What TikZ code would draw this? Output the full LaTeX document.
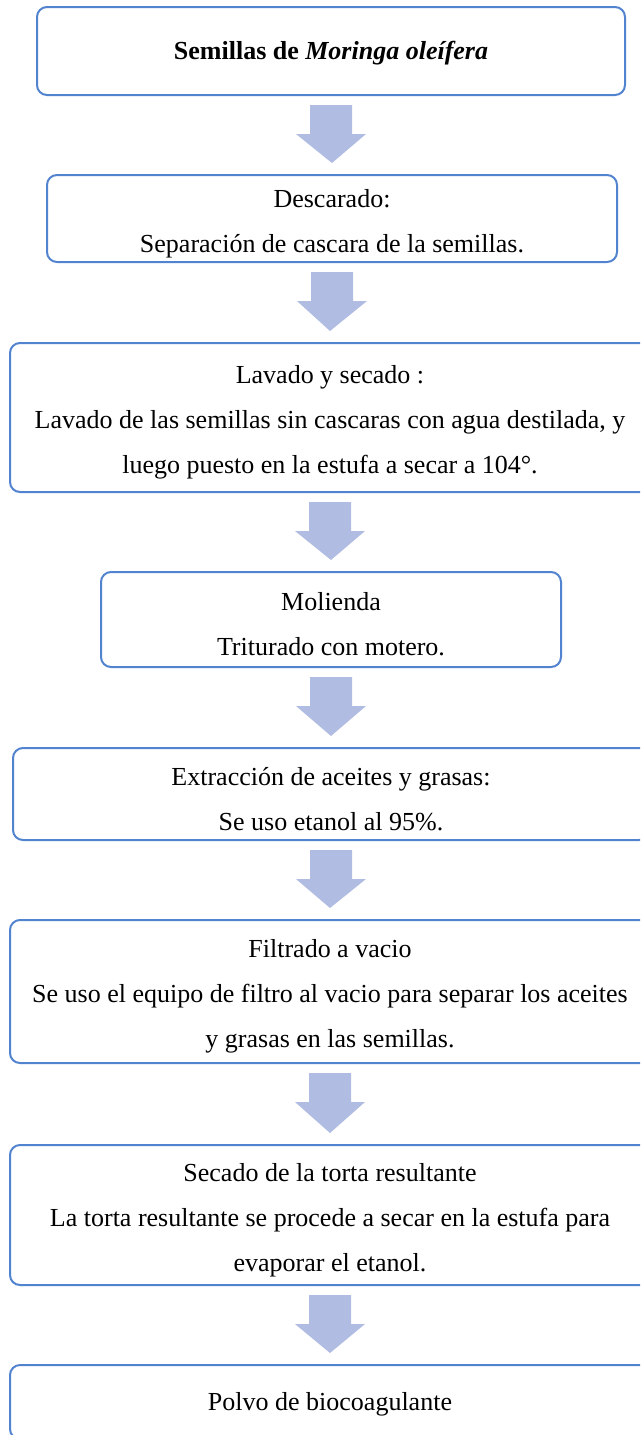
\documentclass[tikz,border=0pt]{standalone}
\usepackage{fontspec}
\setmainfont{Liberation Serif}
\usetikzlibrary{calc}

\definecolor{bordeazul}{HTML}{5283CF}
\definecolor{flechaazul}{HTML}{B0BCE2}

% raises the first line like the line spacing of the original
\newcommand{\alto}{\rule{0pt}{21pt}}

\newcommand{\flecha}[2]{%
  \fill[flechaazul] ($(#1.south)+(-21,9)$) -- ($(#1.south)+(21,9)$)
    -- ($(#1.south)+(21,38)$) -- ($(#1.south)+(35,38)$)
    -- ($(#2.north)+(0,-11)$)
    -- ($(#1.south)+(-35,38)$) -- ($(#1.south)+(-21,38)$) -- cycle;}

\begin{document}
\begin{tikzpicture}[x=0.75pt,y=-0.75pt,
    caja/.style={draw=bordeazul, line width=1.5pt, rounded corners=7.5pt,
      fill=white, inner sep=0pt, align=center,
      font=\fontsize{19.5pt}{33.75pt}\selectfont}]
        \useasboundingbox (0,0) rectangle (640,1435);
        \clip (0,0) rectangle (640,1435);
        \node[caja, minimum width=441pt, minimum height=66pt] (semillas) at (331,51)
          {\rule{0pt}{17pt}\textbf{Semillas de \textit{Moringa oleífera}}};
        \node[caja, minimum width=427.5pt, minimum height=65.25pt] (descarado) at (332,218.5)
          {\alto Descarado:\\ Separación de cascara de la semillas.};
        \node[caja, minimum width=480pt, minimum height=111.75pt] (lavado) at (330,417.5)
          {\alto Lavado y secado :\\ Lavado de las semillas sin cascaras con agua destilada, y\\ luego puesto en la estufa a secar a 104°.};
        \node[caja, minimum width=345pt, minimum height=71.25pt] (molienda) at (331,619.5)
          {\alto Molienda\\ Triturado con motero.};
        \node[caja, minimum width=477pt, minimum height=69pt] (extraccion) at (331,794)
          {\alto Extracción de aceites y grasas:\\ Se uso etanol al 95\%.};
        \node[caja, minimum width=480pt, minimum height=107.25pt] (filtrado) at (330,991.5)
          {\alto Filtrado a vacio\\ Se uso el equipo de filtro al vacio para separar los aceites\\ y grasas en las semillas.};
        \node[caja, minimum width=480pt, minimum height=105pt] (torta) at (330,1215)
          {\alto Secado de la torta resultante\\ La torta resultante se procede a secar en la estufa para\\ evaporar el etanol.};
        \node[caja, minimum width=480pt, minimum height=55.5pt] (polvo) at (330,1402)
          {\rule{0pt}{17pt}Polvo de biocoagulante};
        \flecha{semillas}{descarado}
        \flecha{descarado}{lavado}
        \flecha{lavado}{molienda}
        \flecha{molienda}{extraccion}
        \flecha{extraccion}{filtrado}
        \flecha{filtrado}{torta}
        \flecha{torta}{polvo}
\end{tikzpicture}
\end{document}
